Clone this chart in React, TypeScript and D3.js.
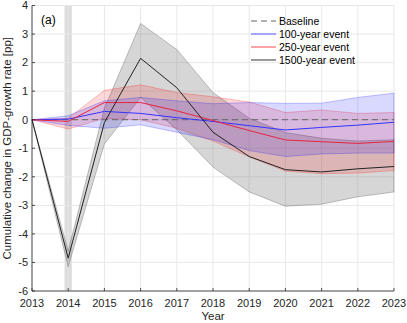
import React from "react";
import * as d3 from "d3";

const years = [2013, 2014, 2015, 2016, 2017, 2018, 2019, 2020, 2021, 2022, 2023];
const baseline = [0, 0, 0, 0, 0, 0, 0, 0, 0, 0, 0];
const mean100 = [0, 0.02, 0.29, 0.22, 0.07, -0.06, -0.21, -0.36, -0.27, -0.19, -0.09];
const upper100 = [0, 0.14, 0.66, 0.78, 0.66, 0.56, 0.6, 0.57, 0.58, 0.78, 0.93];
const lower100 = [0, -0.2, -0.3, -0.18, -0.44, -0.7, -1.08, -1.29, -1.2, -1.17, -1.17];
const mean250 = [0, -0.06, 0.6, 0.6, 0.31, -0.03, -0.38, -0.71, -0.77, -0.83, -0.76];
const upper250 = [0, 0.05, 1.03, 1.22, 0.95, 0.8, 0.62, 0.25, 0.34, 0.22, 0.25];
const lower250 = [0, -0.33, 0.05, 0.0, -0.3, -0.75, -1.3, -1.8, -1.89, -1.87, -1.78];
const mean1500 = [0, -4.85, -0.1, 2.15, 1.12, -0.44, -1.29, -1.75, -1.83, -1.72, -1.64];
const upper1500 = [0, -4.6, 0.4, 3.37, 2.46, 0.95, 0.05, -0.45, -0.65, -0.75, -0.7];
const lower1500 = [0, -5.15, -0.85, 0.78, -0.35, -1.66, -2.53, -3.03, -2.96, -2.7, -2.53];
const yTicks = [-6, -5, -4, -3, -2, -1, 0, 1, 2, 3, 4];
const legendLabels = ["Baseline", "100-year event", "250-year event", "1500-year event"];
const eventYear = 2014;

const W = 407;
const H = 323;
const M = { left: 32, right: 13, top: 5.5, bottom: 32 };

export default function App() {
  const x = d3.scaleLinear().domain([2013, 2023]).range([M.left, W - M.right]);
  const y = d3.scaleLinear().domain([-6, 4]).range([H - M.bottom, M.top]);
  const font = "'Liberation Sans', Arial, Helvetica, sans-serif";

  const line = (vals: number[]) =>
    d3.line<number>().x((_, i) => x(years[i])).y((v) => y(v))(vals) || "";
  const area = (lo: number[], hi: number[]) =>
    d3
      .area<number>()
      .x((_, i) => x(years[i]))
      .y0((_, i) => y(lo[i]))
      .y1((_, i) => y(hi[i]))(years.map((_, i) => i)) || "";

  const bands = [
    { lo: lower1500, hi: upper1500, fill: "rgba(128,128,128,0.32)", stroke: "rgba(90,90,90,0.45)" },
    { lo: lower250, hi: upper250, fill: "rgba(255,0,0,0.15)", stroke: "rgba(255,0,0,0.3)" },
    { lo: lower100, hi: upper100, fill: "rgba(0,0,255,0.15)", stroke: "rgba(0,0,255,0.3)" },
  ];
  const legendStyles = [
    { color: "#666666", dash: "6,4", w: 1 },
    { color: "#5555ff", dash: "", w: 1 },
    { color: "#ff4d4d", dash: "", w: 1 },
    { color: "#333333", dash: "", w: 1 },
  ];
  const axisColor = "#262626";
  const gridColor = "#e8e8e8";
  const left = M.left;
  const right = W - M.right;
  const top = M.top;
  const bottom = H - M.bottom;

  return (
    <svg
      width={W}
      height={H}
      style={{ position: "absolute", left: 0, top: 0, background: "#fff" }}
      fontFamily={font}
    >
      {/* event bar */}
      <rect
        x={x(eventYear - 0.1)}
        y={top}
        width={x(eventYear + 0.1) - x(eventYear - 0.1)}
        height={bottom - top}
        fill="#dcdcdc"
      />
      {/* grid */}
      {years.map((yr) => (
        <line key={"gx" + yr} x1={x(yr)} x2={x(yr)} y1={top} y2={bottom} stroke={gridColor} strokeWidth={1} />
      ))}
      {yTicks.map((t) => (
        <line key={"gy" + t} x1={left} x2={right} y1={y(t)} y2={y(t)} stroke={gridColor} strokeWidth={1} />
      ))}
      {/* bands */}
      {bands.map((b, i) => (
        <path key={"b" + i} d={area(b.lo, b.hi)} fill={b.fill} stroke={b.stroke} strokeWidth={0.8} />
      ))}
      {/* lines */}
      <path d={line(baseline)} fill="none" stroke="#666666" strokeWidth={1} strokeDasharray="6,4" />
      <path d={line(mean100)} fill="none" stroke="#3333ff" strokeWidth={1} />
      <path d={line(mean250)} fill="none" stroke="#e8233f" strokeWidth={1} />
      <path d={line(mean1500)} fill="none" stroke="#222222" strokeWidth={1} />
      {/* axes */}
      <line x1={left} x2={left} y1={top} y2={bottom} stroke={axisColor} strokeWidth={0.8} />
      <line x1={left} x2={right} y1={bottom} y2={bottom} stroke={axisColor} strokeWidth={0.8} />
      {yTicks.map((t) => (
        <g key={"yt" + t}>
          <line x1={left} x2={left + 3} y1={y(t)} y2={y(t)} stroke={axisColor} strokeWidth={0.8} />
          <text x={left - 4} y={y(t)} dy="0.35em" textAnchor="end" fontSize={11} fill={axisColor}>
            {t}
          </text>
        </g>
      ))}
      {years.map((yr) => (
        <g key={"xt" + yr}>
          <line x1={x(yr)} x2={x(yr)} y1={bottom} y2={bottom - 3} stroke={axisColor} strokeWidth={0.8} />
          <text x={x(yr)} y={bottom + 16} textAnchor="middle" fontSize={11} fill={axisColor}>
            {yr}
          </text>
        </g>
      ))}
      <text x={(left + right) / 2} y={bottom + 29} textAnchor="middle" fontSize={11.5} fill={axisColor}>
        Year
      </text>
      <text
        transform={`translate(${11},${(top + bottom) / 2}) rotate(-90)`}
        textAnchor="middle"
        fontSize={11.5}
        fill={axisColor}
      >
        Cumulative change in GDP-growth rate [pp]
      </text>
      <text x={41} y={24} fontSize={12} fill="#000">
        (a)
      </text>
      {/* legend */}
      {legendLabels.map((lab, i) => {
        const ly = 21 + i * 13;
        const s = legendStyles[i];
        return (
          <g key={"lg" + i}>
            <line x1={251} x2={276} y1={ly} y2={ly} stroke={s.color} strokeWidth={s.w} strokeDasharray={s.dash} />
            <text x={279} y={ly} dy="0.35em" fontSize={10.5} fill="#000">
              {lab}
            </text>
          </g>
        );
      })}
    </svg>
  );
}
